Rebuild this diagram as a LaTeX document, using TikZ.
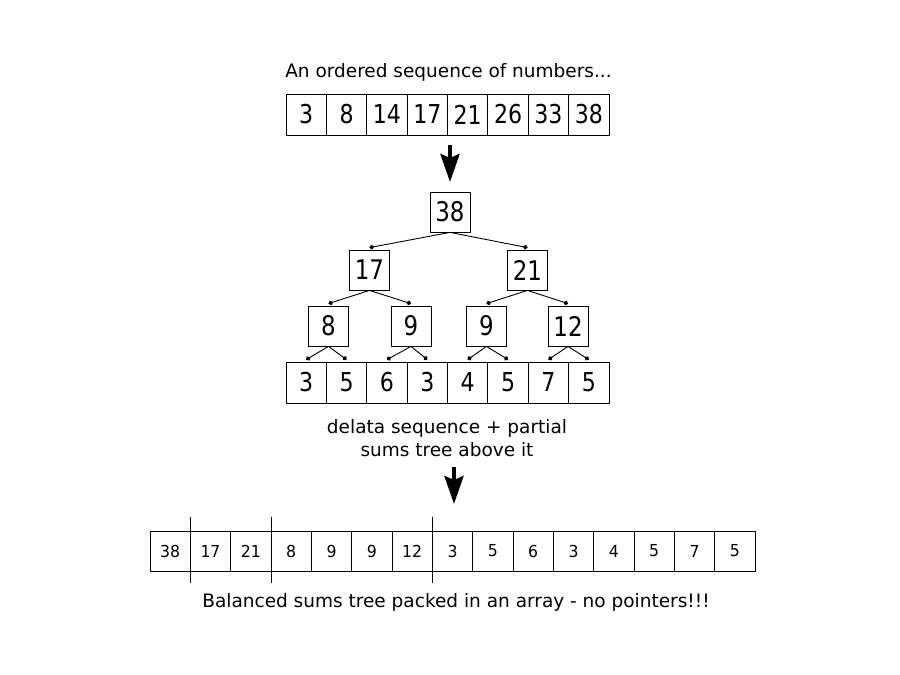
\documentclass[tikz,border=0pt]{standalone}
\usepackage{fontspec}
\setmainfont{DejaVu Sans}
\usetikzlibrary{arrows.meta}

% digits in the drawing are a little narrower than the font
\newcommand{\slim}[2][0.85]{\scalebox{#1}[1]{#2}}

\tikzset{
  cell/.style={draw,line width=0.8pt,inner sep=0pt,minimum width=40.4pt,minimum height=41pt,font=\fontsize{26}{30}\selectfont},
  smallcell/.style={draw,line width=0.8pt,inner sep=0pt,minimum width=40.33pt,minimum height=40pt,font=\fontsize{16.5}{20}\selectfont},
  sumbox/.style={draw,line width=0.8pt,inner sep=0pt,minimum size=40pt,font=\fontsize{27}{30}\selectfont},
  branch/.style={line width=0.9pt,-{Circle[length=4.5pt]}},
  bigarrow/.style={line width=4pt,-{Stealth[length=28pt,width=19pt,inset=4pt]}},
  caption/.style={font=\fontsize{18.5}{23}\selectfont,align=center}
}

\begin{document}
\begin{tikzpicture}[x=1pt,y=-1pt]
    \useasboundingbox (0,0) rectangle (900,675);

    % the ordered sequence
    \node[caption] (title) at (448.5,72) {An ordered sequence of numbers...};
    \foreach \v [count=\i] in {3,8,14,17,21,26,33,38}
      \node[cell] (a\i) at ({286+40.375*(\i-0.5)},114.5) {\slim{\v}};

    \coordinate (arrowAtop) at (450,145);
    \coordinate (arrowAtip) at (450,182);
    \draw[bigarrow] (arrowAtop) -- (arrowAtip);

    % partial sums tree
    \node[sumbox] (root) at (450,212) {\slim{38}};
    \node[sumbox] (left) at (369.5,270) {\slim{17}};
    \node[sumbox] (right) at (527.5,270) {\slim{21}};
    \node[sumbox] (ll) at (328.5,326) {\slim{8}};
    \node[sumbox] (lr) at (411,326) {\slim{9}};
    \node[sumbox] (rl) at (486.5,326) {\slim{9}};
    \node[sumbox] (rr) at (568,326) {\slim{12}};

    % delta sequence
    \foreach \v [count=\i] in {3,5,6,3,4,5,7,5}
      \node[cell] (d\i) at ({286+40.375*(\i-0.5)},382.5) {\slim{\v}};

    \draw[branch] (root.south) -- ([yshift=2pt]left.north);
    \draw[branch] (root.south) -- ([yshift=2pt]right.north);
    \draw[branch] (left.south) -- ([yshift=2pt]ll.north);
    \draw[branch] (left.south) -- ([yshift=2pt]lr.north);
    \draw[branch] (right.south) -- ([yshift=2pt]rl.north);
    \draw[branch] (right.south) -- ([yshift=2pt]rr.north);
    \draw[branch] (ll.south) -- ([yshift=2pt]d1.north);
    \draw[branch] (ll.south) -- ([yshift=2pt]d2.north);
    \draw[branch] (lr.south) -- ([yshift=2pt]d3.north);
    \draw[branch] (lr.south) -- ([yshift=2pt]d4.north);
    \draw[branch] (rl.south) -- ([yshift=2pt]d5.north);
    \draw[branch] (rl.south) -- ([yshift=2pt]d6.north);
    \draw[branch] (rr.south) -- ([yshift=2pt]d7.north);
    \draw[branch] (rr.south) -- ([yshift=2pt]d8.north);

    \node[caption] (middle) at (447,438) {delata sequence + partial\\sums tree above it};

    \coordinate (arrowBtop) at (454,467);
    \coordinate (arrowBtip) at (454,504);
    \draw[bigarrow] (arrowBtop) -- (arrowBtip);

    % packed array
    \foreach \v [count=\i] in {38,17,21,8,9,9,12,3,5,6,3,4,5,7,5}
      \node[smallcell] (b\i) at ({150+40.333*(\i-0.5)},551) {\slim[0.95]{\v}};
    \draw[line width=0.8pt] ([yshift=14pt]b1.north east) -- ([yshift=-12pt]b1.south east);
    \draw[line width=0.8pt] ([yshift=14pt]b3.north east) -- ([yshift=-12pt]b3.south east);
    \draw[line width=0.8pt] ([yshift=14pt]b7.north east) -- ([yshift=-12pt]b7.south east);

    \node[caption] (bottom) at (456,602) {Balanced sums tree packed in an array - no pointers!!!};
  \end{tikzpicture}
\end{document}
